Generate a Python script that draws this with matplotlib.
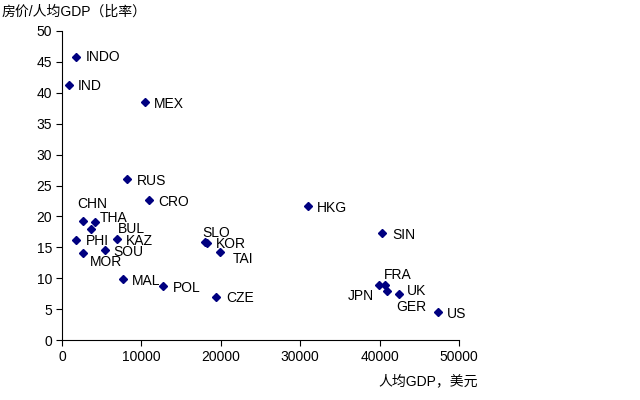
import matplotlib.pyplot as plt

plt.rcParams['font.family'] = ['Liberation Sans', 'Noto Sans CJK SC', 'DejaVu Sans']

countries = ['INDO', 'IND', 'MEX', 'RUS', 'CRO', 'CHN', 'THA', 'BUL', 'PHI', 'KAZ',
             'SOU', 'MOR', 'MAL', 'POL', 'SLO', 'KOR', 'TAI', 'CZE', 'HKG', 'SIN',
             'JPN', 'FRA', 'UK', 'GER', 'US']
gdp_per_capita = [1760, 880, 10450, 8220, 10920, 2650, 4120, 3650, 1760, 6930,
                  5380, 2650, 7720, 12720, 18000, 18300, 19940, 19400, 30980, 40300,
                  39890, 40640, 40930, 42400, 47320]
price_ratio = [45.8, 41.2, 38.5, 26.1, 22.6, 19.3, 19.1, 18.0, 16.2, 16.3,
               14.5, 14.0, 9.9, 8.7, 15.8, 15.75, 14.3, 7.0, 21.7, 17.3,
               8.85, 8.9, 8.0, 7.5, 4.6]

# label offsets in pixels (dx, dy, ha)
offsets = {
    'INDO': (10, 0, 'left'), 'IND': (9, -1, 'left'), 'MEX': (9, -2, 'left'),
    'RUS': (10, -2, 'left'), 'CRO': (10, -2, 'left'), 'CHN': (-6, 17, 'left'),
    'THA': (5, 4, 'left'), 'BUL': (27, 0, 'left'), 'PHI': (10, -1, 'left'),
    'KAZ': (9, -2, 'left'), 'SOU': (9, -2, 'left'), 'MOR': (7, -9, 'left'),
    'MAL': (9, -2, 'left'), 'POL': (10, -2, 'left'), 'SLO': (-3, 9, 'left'),
    'KOR': (9, -1, 'left'), 'TAI': (12, -7, 'left'), 'CZE': (10, -1, 'left'),
    'HKG': (9, -2, 'left'), 'SIN': (10, -2, 'left'), 'JPN': (-5, -11, 'right'),
    'FRA': (-1, 10, 'left'), 'UK': (20, 0, 'left'), 'GER': (-2, -13, 'left'),
    'US': (9, -2, 'left'),
}

fig = plt.figure(figsize=(6.4, 4.0), dpi=100)
ax = fig.add_axes([62 / 640, 1 - 340 / 400, 397 / 640, 309 / 400])

ax.plot(gdp_per_capita, price_ratio, linestyle='none', marker='D', markersize=4.5,
        color='#000080')

for name, x, y in zip(countries, gdp_per_capita, price_ratio):
    dx, dy, ha = offsets[name]
    ax.annotate(name, (x, y), xytext=(dx, dy), textcoords='offset pixels',
                ha=ha, va='center', fontsize=10, color='black')

ax.set_xlim(0, 50000)
ax.set_ylim(0, 50)
ax.set_xticks(range(0, 50001, 10000))
ax.set_yticks(range(0, 51, 5))
ax.spines['top'].set_visible(False)
ax.spines['right'].set_visible(False)
ax.tick_params(direction='out', length=4, labelsize=10, pad=3)

fig.text(2 / 640, 1 - 12 / 400, '房价/人均GDP（比率）', fontsize=10, va='center', ha='left')
fig.text(378 / 640, 1 - 381 / 400, '人均GDP，美元', fontsize=10, va='center', ha='left')

fig.savefig('out.png', dpi=100)
